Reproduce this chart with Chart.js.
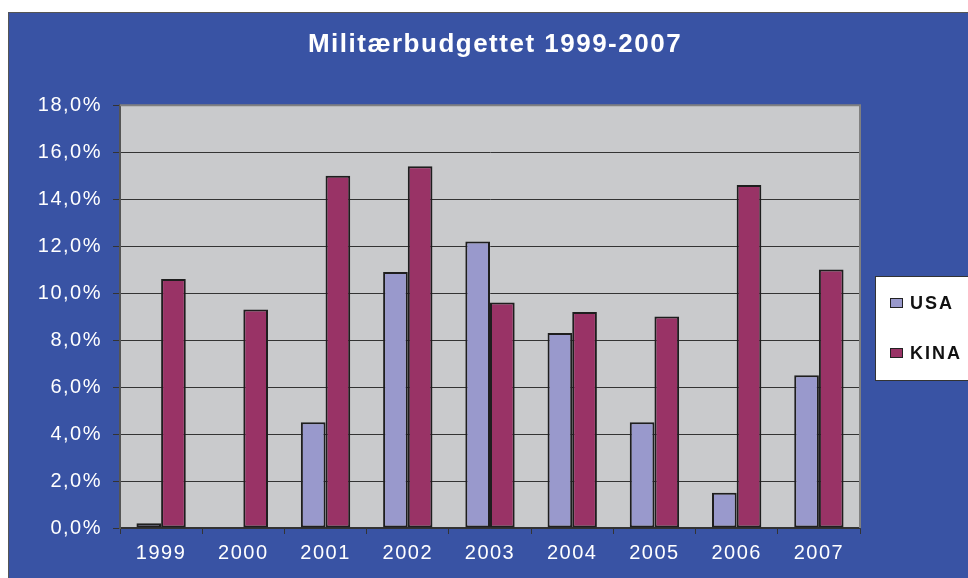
<!DOCTYPE html>
<html>
<head>
<meta charset="utf-8">
<script src="https://cdn.jsdelivr.net/npm/chart.js"></script>
<style>
  html, body { margin: 0; padding: 0; background: #fff; }
  #wrap { width: 968px; height: 578px; }
</style>
</head>
<body>
<div id="wrap"><canvas id="budgetChart" width="968" height="578"></canvas></div>
<script>
const years = ["1999", "2000", "2001", "2002", "2003", "2004", "2005", "2006", "2007"];
const usa = [0.2, null, 4.5, 10.9, 12.2, 8.3, 4.5, 1.5, 6.5];
const kina = [10.6, 9.3, 15.0, 15.4, 9.6, 9.2, 9.0, 14.6, 11.0];
const seriesNames = ["USA", "KINA"];
const yMax = 18;
const yStep = 2;

const BLUE = "#3953a4";
const PLOT_BG = "#c9cacc";
const USA_COLOR = "#9999cc";
const KINA_COLOR = "#993366";
const FONT = "'Liberation Sans', Arial, sans-serif";

// the original export has slightly stretched text
function spaced(ctx) {
    ctx.letterSpacing = "1.5px";
}

const backdrop = {
    id: "backdrop",
    beforeUpdate(chart) { spaced(chart.ctx); },
    beforeLayout(chart) { spaced(chart.ctx); },
    beforeDraw(chart) {
        const ctx = chart.ctx;
        const a = chart.chartArea;
        spaced(ctx);
        ctx.save();
        ctx.fillStyle = "#fff";
        ctx.fillRect(0, 0, chart.width, chart.height);
        ctx.fillStyle = BLUE;
        ctx.fillRect(8, 12, chart.width - 8, chart.height - 12);
        ctx.strokeStyle = "#555";
        ctx.lineWidth = 1;
        ctx.beginPath();
        ctx.moveTo(8.5, chart.height);
        ctx.lineTo(8.5, 12.5);
        ctx.lineTo(chart.width, 12.5);
        ctx.stroke();
        ctx.fillStyle = PLOT_BG;
        ctx.fillRect(a.left, a.top, a.right - a.left, a.bottom - a.top);
        ctx.restore();
    },
    afterDraw(chart) {
        const ctx = chart.ctx;
        const a = chart.chartArea;
        ctx.save();
        // plot frame top and right
        ctx.strokeStyle = "#808080";
        ctx.lineWidth = 2;
        ctx.beginPath();
        ctx.moveTo(a.left, a.top);
        ctx.lineTo(a.right, a.top);
        ctx.lineTo(a.right, a.bottom);
        ctx.stroke();

        // legend box
        ctx.fillStyle = "#fff";
        ctx.fillRect(875, 276, 110, 105);
        ctx.strokeStyle = "#333";
        ctx.lineWidth = 1;
        ctx.strokeRect(875.5, 276.5, 110, 104);

        const rows = [303, 353];
        chart.data.datasets.forEach((ds, i) => {
            const y = rows[i];
            ctx.fillStyle = ds.backgroundColor;
            ctx.fillRect(890, y - 5, 13, 10);
            ctx.strokeStyle = "#222";
            ctx.lineWidth = 1;
            ctx.strokeRect(890.5, y - 4.5, 12, 9);
            ctx.fillStyle = "#111";
            ctx.font = "bold 18px " + FONT;
            ctx.letterSpacing = "2px";
            ctx.textBaseline = "middle";
            ctx.textAlign = "left";
            ctx.fillText(ds.label, 910, y + 1);
        });
        ctx.restore();
    }
};

const ctx = document.getElementById("budgetChart");

new Chart(ctx, {
    type: "bar",
    data: {
        labels: years,
        datasets: [
            {
                label: seriesNames[0],
                data: usa,
                backgroundColor: USA_COLOR,
                borderColor: "#1e1e1e",
                borderWidth: 2,
                borderSkipped: false
            },
            {
                label: seriesNames[1],
                data: kina,
                backgroundColor: KINA_COLOR,
                borderColor: "#1e1e1e",
                borderWidth: 2,
                borderSkipped: false
            }
        ]
    },
    options: {
        responsive: false,
        animation: false,
        devicePixelRatio: 1,
        // title is centred a bit right of the canvas middle in the original
        layout: { padding: { left: 22, right: 0, top: 0, bottom: 0 } },
        datasets: {
            bar: { categoryPercentage: 0.6, barPercentage: 1 }
        },
        plugins: {
            legend: { display: false },
            tooltip: { enabled: false },
            title: {
                display: true,
                text: "Militærbudgettet 1999-2007",
                color: "#fff",
                font: { family: FONT, size: 26, weight: "bold", lineHeight: 1.2 },
                padding: { top: 29, bottom: 45 }
            }
        },
        scales: {
            x: {
                grid: {
                    drawOnChartArea: false,
                    drawTicks: true,
                    tickLength: 6,
                    color: "#333"
                },
                border: { color: "#333", width: 1.5 },
                ticks: {
                    color: "#fff",
                    padding: 7,
                    font: { family: FONT, size: 20 }
                },
                afterFit(scale) { scale.height = 50; }
            },
            y: {
                min: 0,
                max: yMax,
                grid: {
                    color: "#333",
                    lineWidth: 1,
                    tickLength: 7,
                    drawTicks: true
                },
                border: { color: "#555", width: 2 },
                ticks: {
                    stepSize: yStep,
                    color: "#fff",
                    padding: 11,
                    font: { family: FONT, size: 20 },
                    callback: (v) => v.toFixed(1).replace(".", ",") + "%"
                },
                afterFit(scale) {
                    scale.width = 98;
                    scale.paddingTop = 0;
                    scale.paddingBottom = 0;
                }
            },
            // empty right axis that keeps room for the legend
            legendSpace: {
                position: "right",
                grid: { display: false, drawOnChartArea: false },
                border: { display: false },
                ticks: { display: false },
                afterFit(scale) {
                    scale.width = 108;
                    scale.paddingTop = 0;
                    scale.paddingBottom = 0;
                }
            }
        }
    },
    plugins: [backdrop]
});
</script>
</body>
</html>
